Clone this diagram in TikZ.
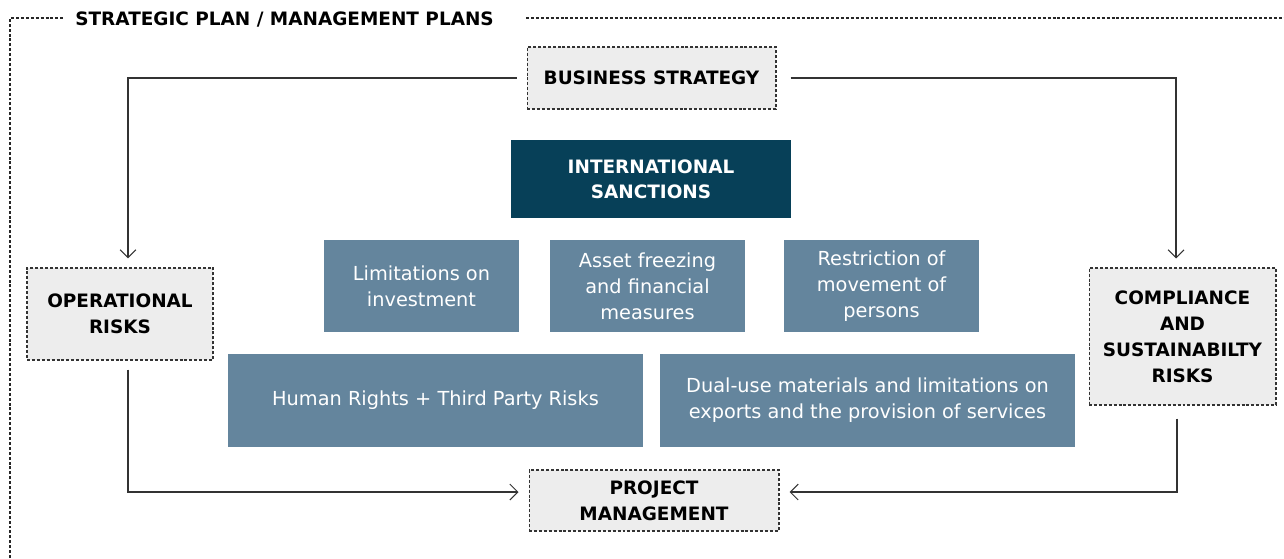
\documentclass[tikz,border=0pt]{standalone}
\usepackage{fontspec}
\setmainfont{DejaVu Sans}
\usetikzlibrary{arrows.meta}
\definecolor{planGrey}{RGB}{237,237,237}
\definecolor{planDark}{RGB}{7,64,88}
\definecolor{planBlue}{RGB}{100,133,157}
\definecolor{planLine}{RGB}{51,51,51}

\begin{document}
\begin{tikzpicture}[x=0.02cm,y=-0.02cm,
  frame/.style={black!85,line width=0.6pt,dash pattern=on 1.7pt off 1.1pt},
  riskbox/.style={draw=black!80,fill=planGrey,line width=0.6pt,dash pattern=on 1.7pt off 1.1pt,align=center,inner sep=0pt,font=\fontsize{10.5}{14.8}\selectfont\bfseries},
  sancbox/.style={fill=planDark,text=white,align=center,inner sep=0pt,font=\fontsize{10.5}{14}\selectfont\bfseries},
  measbox/.style={fill=planBlue,text=white,align=center,inner sep=0pt,font=\fontsize{11}{14.8}\selectfont},
  link/.style={planLine,line width=0.6pt,-{Straight Barb[length=4.5pt,width=9pt]}}]
\useasboundingbox (0,0) rectangle (1284,558);
% outer frame with its title
\coordinate (corner) at (10,18);
\node[anchor=west,inner sep=0pt,font=\fontsize{10.5}{13}\selectfont\bfseries] (title) at (75,20) {STRATEGIC PLAN / MANAGEMENT PLANS};
\draw[frame] (10,558) -- (corner) -- ([xshift=-0.2cm]title.west |- corner);
\draw[frame] ([xshift=0.64cm]title.east |- corner) -- (1284,18);
% sanctions in the middle
\node[sancbox,minimum width=5.6cm,minimum height=1.56cm] (sanc) at (651,179) {INTERNATIONAL\\SANCTIONS};
\node[measbox,minimum width=3.9cm,minimum height=1.84cm] (inv) at (421.5,286) {Limitations on\\investment};
\node[measbox,minimum width=3.9cm,minimum height=1.84cm] (asset) at (647.5,286) {Asset freezing\\and financial\\measures};
\node[measbox,minimum width=3.9cm,minimum height=1.84cm] (move) at (881.5,286) {Restriction of\\movement of\\persons};
\node[measbox,minimum width=8.3cm,minimum height=1.86cm] (hr) at (435.5,400.5) {Human Rights + Third Party Risks};
\node[measbox,minimum width=8.3cm,minimum height=1.86cm] (dual) at (867.5,400.5) {Dual-use materials and limitations on\\exports and the provision of services};
% plans around them
\node[riskbox,minimum width=4.98cm,minimum height=1.24cm] (bs) at (651.5,78) {BUSINESS STRATEGY};
\node[riskbox,minimum width=3.72cm,minimum height=1.84cm] (op) at (120,314) {OPERATIONAL\\RISKS};
\node[riskbox,minimum width=3.74cm,minimum height=2.74cm] (comp) at (1182.5,336.5) {COMPLIANCE\\AND\\SUSTAINABILTY\\RISKS};
\node[riskbox,minimum width=5cm,minimum height=1.22cm] (pm) at (654,500.5) {PROJECT\\MANAGEMENT};
% connectors
\draw[link,shorten <=0.2cm,shorten >=0.18cm] (bs.west) -| ([xshift=0.16cm]op.north);
\draw[link,shorten <=0.28cm,shorten >=0.18cm] (bs.east) -| ([xshift=-0.13cm]comp.north);
\draw[link,shorten <=0.18cm,shorten >=0.2cm] ([xshift=0.16cm]op.south) |- ([yshift=0.17cm]pm.west);
\draw[link,shorten <=0.26cm,shorten >=0.2cm] ([xshift=-0.11cm]comp.south) |- ([yshift=0.17cm]pm.east);
\end{tikzpicture}
\end{document}
